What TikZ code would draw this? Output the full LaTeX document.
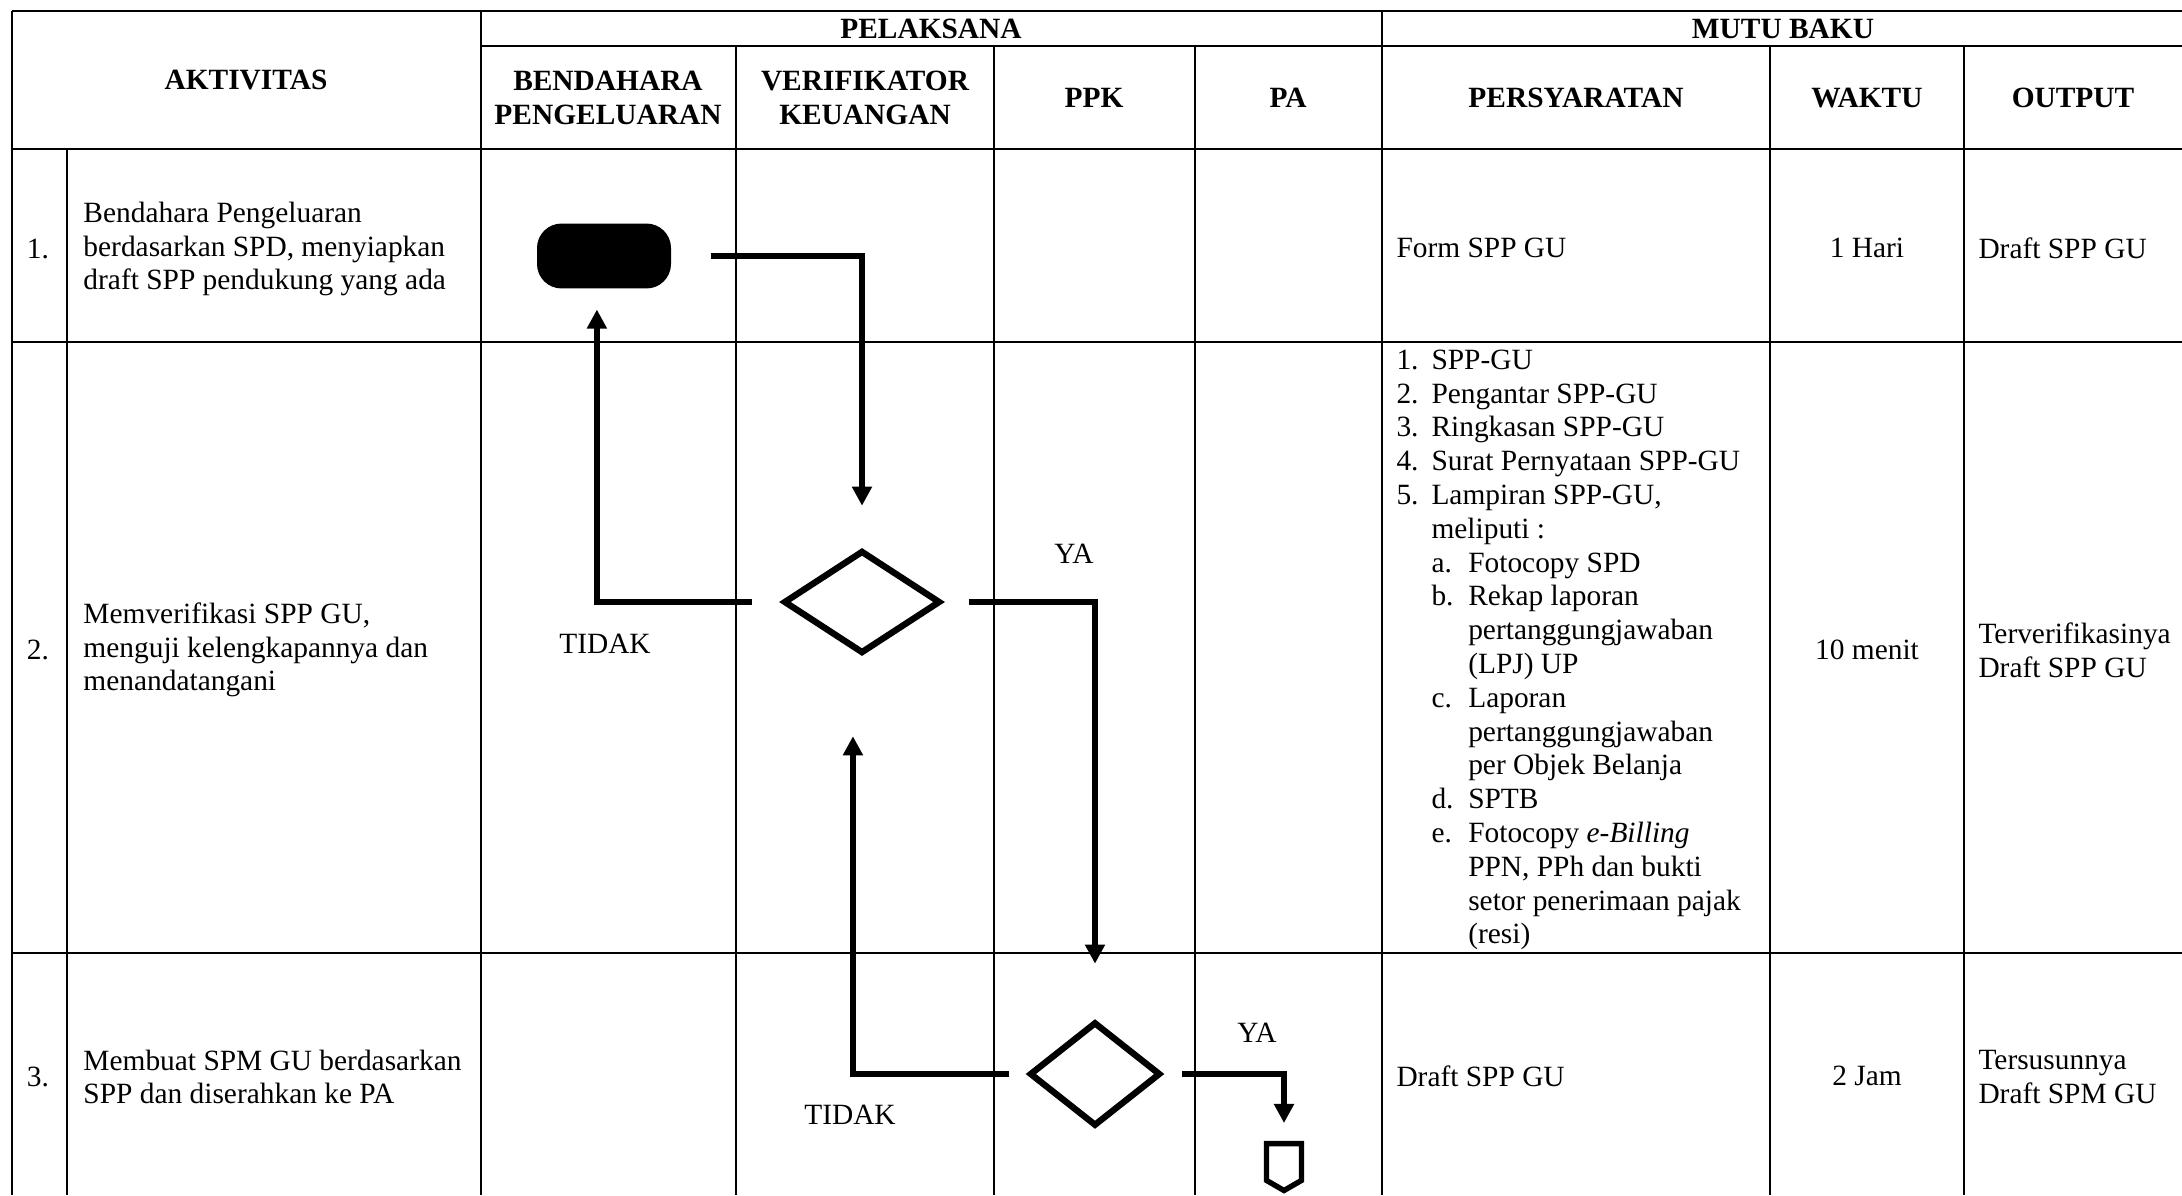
\documentclass[tikz,border=0pt]{standalone}
\usepackage{fontspec}
\setmainfont{Liberation Serif}
\usepackage{tikz}
\usetikzlibrary{shapes.geometric,shapes.symbols,arrows.meta}

\newcommand{\nomor}[1]{\makebox[14.3pt][l]{#1}}
\newcommand{\huruf}[1]{\hspace*{14.3pt}\makebox[15pt][l]{#1}}

\begin{document}
\begin{tikzpicture}[
  x=0.4082pt, y=-0.4082pt,
  grid/.style={line width=0.8pt},
  headline/.style={line width=1pt},
  head/.style={font=\fontsize{12pt}{13.8pt}\selectfont\bfseries, align=center, inner sep=0pt},
  cell/.style={font=\fontsize{12pt}{13.8pt}\selectfont, align=left, inner sep=0pt},
  term/.style={rectangle, rounded corners=10pt, fill=black, minimum width=54.7pt, minimum height=26.5pt},
  decision/.style={diamond, draw, line width=2.6pt, fill=white, inner sep=0pt},
  offpage/.style={signal, signal to=south, draw, line width=2.2pt, fill=white, inner sep=0pt, minimum width=14.3pt, minimum height=15pt, signal pointer angle=120},
  flow/.style={-{Triangle[width=7.8pt,length=7.8pt]}, line width=2.2pt}
]
\useasboundingbox (0,0) rectangle (2182,1195);

% table
\draw[headline] (12,11) -- (2182,11);
\draw[headline] (481,46) -- (2182,46);
\draw[headline] (12,149) -- (2182,149);
\draw[grid] (12,342) -- (2182,342);
\draw[grid] (12,953) -- (2182,953);
\draw[grid] (12,11) -- (12,1195);
\draw[grid] (67,149) -- (67,1195);
\foreach \x in {481,1382} \draw[grid] (\x,11) -- (\x,1195);
\foreach \x in {736,994,1195,1770,1964} \draw[grid] (\x,46) -- (\x,1195);

% header
\node[head] (aktivitas) at (246,80) {AKTIVITAS};
\node[head] (pelaksana) at (931,29) {PELAKSANA};
\node[head] (mutubaku) at (1783,29) {MUTU BAKU};
\node[head] (bendahara) at (608,98) {BENDAHARA\\PENGELUARAN};
\node[head] (verifikator) at (865,98) {VERIFIKATOR\\KEUANGAN};
\node[head] (ppk) at (1094,98) {PPK};
\node[head] (pa) at (1288,98) {PA};
\node[head] (persyaratan) at (1576,98) {PERSYARATAN};
\node[head] (waktu) at (1867,98) {WAKTU};
\node[head] (output) at (2073,98) {OUTPUT};

% aktivitas
\node[cell] (no1) at (38,249) {1.};
\node[cell] (no2) at (38,650) {2.};
\node[cell] (no3) at (38,1077) {3.};
\node[cell, anchor=west] (akt1) at (83,249) {Bendahara Pengeluaran\\berdasarkan SPD, menyiapkan\\draft SPP pendukung yang ada};
\node[cell, anchor=west] (akt2) at (83,650) {Memverifikasi SPP GU,\\menguji kelengkapannya dan\\menandatangani};
\node[cell, anchor=west] (akt3) at (83,1077) {Membuat SPM GU berdasarkan\\SPP dan diserahkan ke PA};

% mutu baku
\node[cell, anchor=west] (syarat1) at (1396,248) {Form SPP GU};
\node[cell, anchor=west] (syarat2) at (1396,650) {\nomor{1.}SPP-GU\\
  \nomor{2.}Pengantar SPP-GU\\
  \nomor{3.}Ringkasan SPP-GU\\
  \nomor{4.}Surat Pernyataan SPP-GU\\
  \nomor{5.}Lampiran SPP-GU,\\
  \hspace*{14.3pt}meliputi :\\
  \huruf{a.}Fotocopy SPD\\
  \huruf{b.}Rekap laporan\\
  \hspace*{29.3pt}pertanggungjawaban\\
  \hspace*{29.3pt}(LPJ) UP\\
  \huruf{c.}Laporan\\
  \hspace*{29.3pt}pertanggungjawaban\\
  \hspace*{29.3pt}per Objek Belanja\\
  \huruf{d.}SPTB\\
  \huruf{e.}Fotocopy \textit{e-Billing}\\
  \hspace*{29.3pt}PPN, PPh dan bukti\\
  \hspace*{29.3pt}setor penerimaan pajak\\
  \hspace*{29.3pt}(resi)};
\node[cell, anchor=west] (syarat3) at (1396,1076) {Draft SPP GU};
\node[cell] (waktu1) at (1867,248) {1 Hari};
\node[cell] (waktu2) at (1867,650) {10 menit};
\node[cell] (waktu3) at (1867,1076) {2 Jam};
\node[cell, anchor=west] (output1) at (1978,248) {Draft SPP GU};
\node[cell, anchor=west] (output2) at (1978,650) {Terverifikasinya\\Draft SPP GU};
\node[cell, anchor=west] (output3) at (1978,1077) {Tersusunnya\\Draft SPM GU};

% flow
\node[term] (mulai) at (604,256) {};
\node[decision, minimum width=64pt, minimum height=42pt] (cek1) at (862,602) {};
\node[decision, minimum width=53.5pt, minimum height=42.5pt] (cek2) at (1095,1074) {};
\node[offpage] (konektor) at (1284,1162) {};

\draw[flow, shorten <=16pt, shorten >=17pt] (mulai.east) -| (cek1.north);
\draw[flow, shorten <=11.7pt, shorten >=8.4pt] (cek1.west) -| ([xshift=-2.9pt]mulai.south);
\draw[flow, shorten <=10.5pt, shorten >=22.5pt] (cek1.east) -| (cek2.north);
\draw[flow, shorten <=7.1pt, shorten >=32.5pt] (cek2.west) -| ([xshift=-3.7pt]cek1.south);
\draw[flow, shorten <=7.5pt, shorten >=7.3pt] (cek2.east) -| (konektor.north);

\node[cell] (tidak1) at (605,644) {TIDAK};
\node[cell] (ya1) at (1074,554) {YA};
\node[cell] (tidak2) at (850,1115) {TIDAK};
\node[cell] (ya2) at (1257,1033) {YA};
\end{tikzpicture}
\end{document}
